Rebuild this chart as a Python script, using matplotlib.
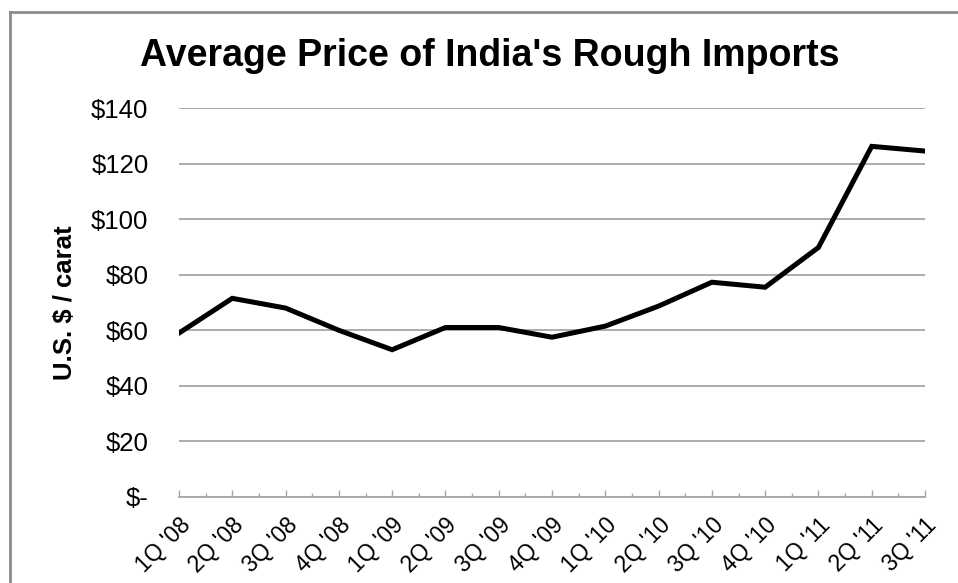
import matplotlib
matplotlib.use("Agg")
import matplotlib.pyplot as plt
from matplotlib.lines import Line2D
from matplotlib.ticker import FuncFormatter, MultipleLocator
import numpy as np

plt.rcParams["font.family"] = ["Liberation Sans", "DejaVu Sans"]

quarters = ["1Q '08", "2Q '08", "3Q '08", "4Q '08",
            "1Q '09", "2Q '09", "3Q '09", "4Q '09",
            "1Q '10", "2Q '10", "3Q '10", "4Q '10",
            "1Q '11", "2Q '11", "3Q '11"]
price = [59, 71.5, 68, 60, 53, 61, 61, 57.5, 61.5, 68.7, 77.3, 75.5, 89.8, 126.2, 124.5]
y_ticks = [0, 20, 40, 60, 80, 100, 120, 140]

fig = plt.figure(figsize=(9.58, 5.83), dpi=100)
ax = fig.add_axes([179/958, 86/583, (925-179)/958, (497-108)/583])

x = np.arange(len(quarters))
ax.plot(x, price, color="black", lw=3.6, solid_joinstyle="miter")

ax.set_xlim(0, len(quarters) - 1)
ax.set_ylim(0, 140)
ax.set_yticks(y_ticks)
ax.yaxis.set_major_formatter(FuncFormatter(lambda v, p: "$-" if v == 0 else f"${v:.0f}"))
ax.grid(axis="y", color="#a6a6a6", lw=1.3)
ax.set_axisbelow(True)

for s in ["top", "right", "left"]:
    ax.spines[s].set_visible(False)
ax.spines["bottom"].set_color("#a6a6a6")
ax.spines["bottom"].set_linewidth(1.3)

ax.set_xticks(x)
ax.set_xticklabels(quarters, rotation=45, ha="right", rotation_mode="anchor")
ax.xaxis.set_minor_locator(MultipleLocator(0.5))
ax.tick_params(axis="x", which="major", direction="in", length=5, width=1, color="#a6a6a6",
               labelsize=16.5, pad=12)
ax.tick_params(axis="x", which="minor", direction="in", length=3, width=1, color="#a6a6a6")
ax.tick_params(axis="y", length=0, labelsize=18.5, pad=22)

ax.set_ylabel("U.S. $ / carat", fontsize=18.5, fontweight="bold", labelpad=10)
fig.text(490/958, 1 - 56/583, "Average Price of India's Rough Imports",
         ha="center", va="center", fontsize=27, fontweight="bold")

# chart border (left and top edges visible)
fig.add_artist(Line2D([10/958, 10/958], [0, 1 - 12/583], transform=fig.transFigure,
                      color="#8c8c8c", lw=2))
fig.add_artist(Line2D([10/958, 1], [1 - 12/583, 1 - 12/583], transform=fig.transFigure,
                      color="#8c8c8c", lw=2))

fig.savefig("out.png", dpi=100)
